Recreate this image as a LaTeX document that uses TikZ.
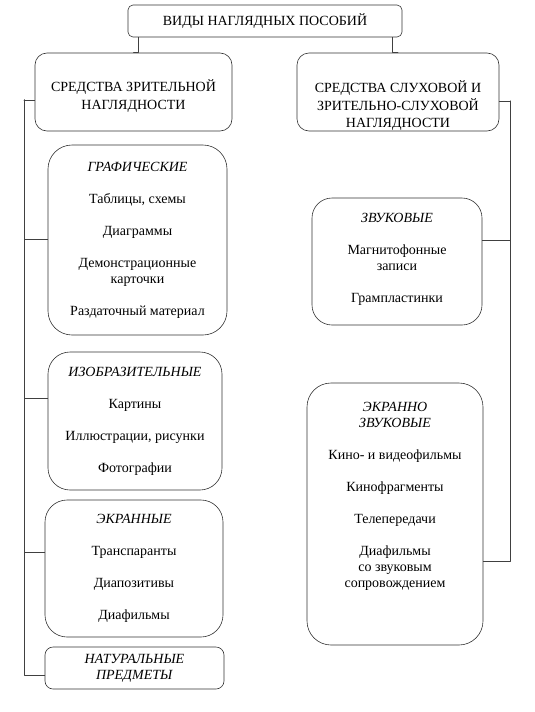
\documentclass[tikz,border=0pt]{standalone}
\usepackage{fontspec}
\setmainfont{Liberation Serif}
\begin{document}
\begin{tikzpicture}[x=1pt,y=-1pt,line cap=round,line join=round,font=\fontsize{14}{16}\selectfont,
	box/.style={draw=black!80,line width=0.6pt,align=center,inner sep=0pt,rounded corners=#1},
	box/.default=22pt,
	link/.style={draw=black!75,line width=0.6pt}]
	\useasboundingbox (0,0) rectangle (535,712);
	% top row
	\node[box=5pt,minimum width=274pt,minimum height=32pt] (vidy) at (265,21) {ВИДЫ НАГЛЯДНЫХ ПОСОБИЙ};
	\node[box=12pt,minimum width=197pt,minimum height=78pt,font=\fontsize{14}{17.5}\selectfont] (zrit) at (133.5,92) {\rule{0pt}{20pt}СРЕДСТВА ЗРИТЕЛЬНОЙ\\НАГЛЯДНОСТИ};
	\node[box=12pt,minimum width=202pt,minimum height=78pt,font=\fontsize{14}{17.5}\selectfont] (sluh) at (398,92) {\rule{0pt}{39pt}СРЕДСТВА СЛУХОВОЙ И\\ЗРИТЕЛЬНО-СЛУХОВОЙ\\НАГЛЯДНОСТИ};
	% left column
	\node[box=24pt,minimum width=179pt,minimum height=190pt] (graf) at (137.5,240) {\textit{ГРАФИЧЕСКИЕ}\\[16pt]
		Таблицы, схемы\\[16pt] Диаграммы\\[16pt] Демонстрационные\\карточки\\[16pt] Раздаточный материал};
	\node[box,minimum width=174pt,minimum height=138pt] (izob) at (135,421) {\textit{ИЗОБРАЗИТЕЛЬНЫЕ}\\[16pt]
		Картины\\[16pt] Иллюстрации, рисунки\\[16pt] Фотографии};
	\node[box,minimum width=178pt,minimum height=137pt] (ekr) at (134,568.5) {\textit{ЭКРАННЫЕ}\\[16pt]
		Транспаранты\\[16pt] Диапозитивы\\[16pt] Диафильмы};
	\node[box=8pt,minimum width=179pt,minimum height=42pt] (natur) at (134.5,668) {\textit{НАТУРАЛЬНЫЕ}\\\textit{ПРЕДМЕТЫ}};
	% right column
	\node[box=20pt,minimum width=170pt,minimum height=127pt] (zvuk) at (397,261.5) {\textit{ЗВУКОВЫЕ}\\[16pt]
		Магнитофонные\\записи\\[16pt] Грампластинки\rule[-7pt]{0pt}{7pt}};
	\node[box=24pt,minimum width=176pt,minimum height=262pt] (ekrzv) at (395,514) {\textit{ЭКРАННО}\\\textit{ЗВУКОВЫЕ}\\[16pt]
		Кино- и видеофильмы\\[16pt] Кинофрагменты\\[16pt] Телепередачи\\[16pt] Диафильмы\\со звуковым\\сопровождением\rule[-39pt]{0pt}{39pt}};
	% connectors
	\coordinate (lspine) at (24,100);
	\coordinate (rspine) at (510,101);
	\draw[link] ([xshift=11pt]vidy.south west) |- (zrit.north);
	\draw[link] ([xshift=-10pt]vidy.south east) |- (sluh.north);
	\draw[link] (zrit.west |- lspine) -- (lspine);
	\draw[link] (lspine) |- ([yshift=1pt]graf.west);
	\draw[link] (lspine) |- ([yshift=23pt]izob.west);
	\draw[link] (lspine) |- ([yshift=16.5pt]ekr.west);
	\draw[link] (lspine) |- ([yshift=-7pt]natur.west);
	\draw[link] (sluh.east |- rspine) -- (rspine);
	\draw[link] (rspine) |- ([yshift=21.5pt]zvuk.east);
	\draw[link] (rspine) |- ([yshift=-47pt]ekrzv.east);
\end{tikzpicture}
\end{document}
